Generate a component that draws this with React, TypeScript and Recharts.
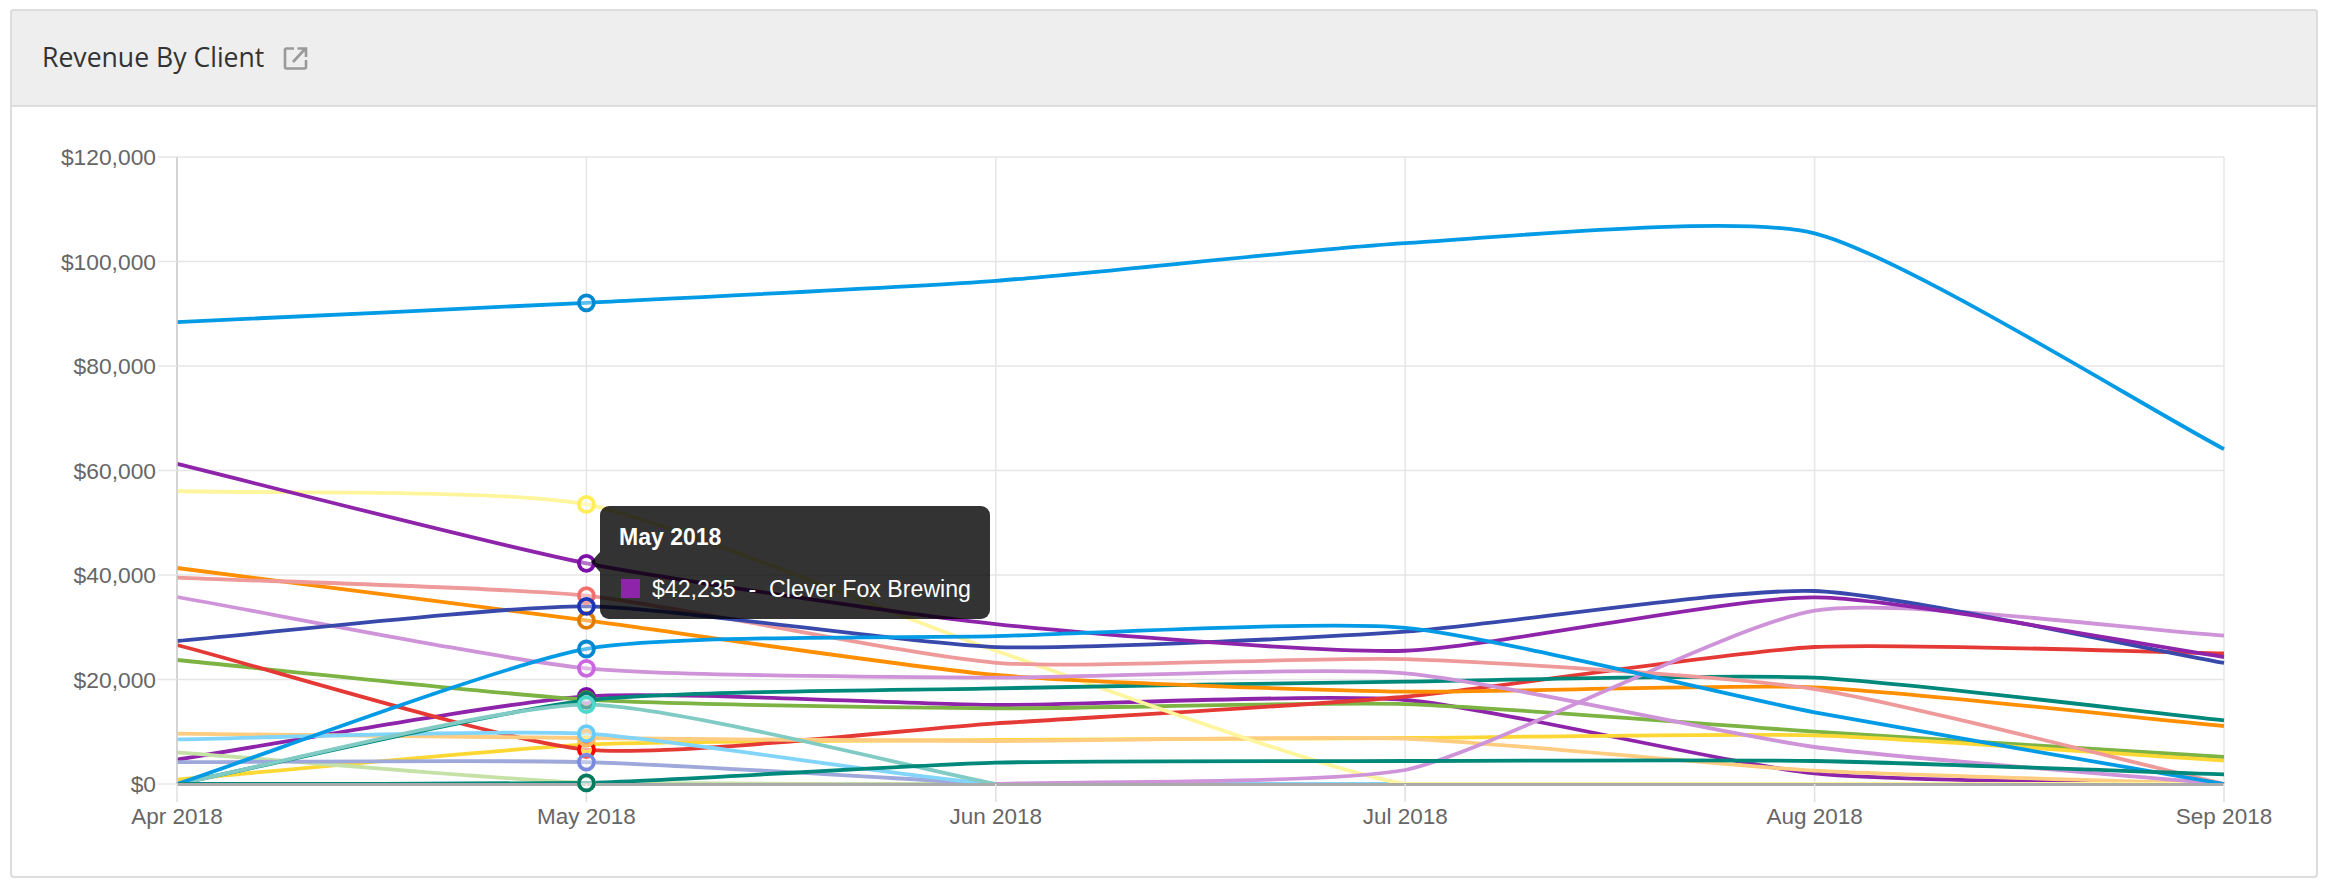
import React from "react";
import { LineChart, Line, XAxis, YAxis, CartesianGrid, Tooltip, ReferenceLine } from "recharts";

const months = ["Apr 2018", "May 2018", "Jun 2018", "Jul 2018", "Aug 2018", "Sep 2018"];
const yTicks = [0, 20000, 40000, 60000, 80000, 100000, 120000];

const purple = [4660, 16780, 15120, 16080, 2040, 0];
const green = [23730, 16140, 14480, 15300, 10020, 5170];
const yellow = [830, 7530, 8420, 8800, 9310, 4470];
const red = [26600, 6570, 11600, 16700, 26220, 25000];
const peach = [9630, 8800, 8230, 8680, 2550, 0];
const paleGreen = [6060, 200, 0, null, null, null];
const periwinkle = [4200, 4200, 0, null, null, null];
const skyBlue = [8550, 9630, 0, 0, 0, 0];
const paleYellow = [56080, 53500, 25500, 0, 0, 0];
const teal = [0, 16000, 18300, 19600, 20350, 12190];
const paleTeal = [0, 15200, 0, null, null, null];
const orange = [41340, 31300, 20860, 17670, 18500, 11100];
const risingLilac = [null, null, 0, 2680, 33180, 28390];
const lilac = [35790, 22140, 20350, 21180, 7080, 0];
const pink = [39490, 36050, 23200, 23900, 18180, 0];
const indigo = [27370, 34000, 26200, 29150, 36940, 23160];
const cleverFox = [61250, 42235, 30600, 25500, 35730, 24300];
const blue = [0, 25840, 28300, 29900, 13720, 0];
const bottomTeal = [0, 200, 4080, 4400, 4400, 1850];
const topBlue = [88400, 92100, 96300, 103500, 105400, 64100];

const seriesList = [
  { name: "Purple", values: purple, color: "#8e24aa", hover: "#7b0fa8" },
  { name: "Green", values: green, color: "#7cb342", hover: "#6aa800" },
  { name: "Yellow", values: yellow, color: "#fdd835", hover: "#ffd000" },
  { name: "Red", values: red, color: "#e53935", hover: "#ff0000" },
  { name: "Peach", values: peach, color: "#ffcc80", hover: "#ffb860" },
  { name: "Pale Green", values: paleGreen, color: "#c5e1a5", hover: "#b5e580" },
  { name: "Periwinkle", values: periwinkle, color: "#9fa8da", hover: "#7a8ae0" },
  { name: "Sky Blue", values: skyBlue, color: "#81d4fa", hover: "#66ccff" },
  { name: "Pale Yellow", values: paleYellow, color: "#fff59d", hover: "#ffee58" },
  { name: "Teal", values: teal, color: "#00897b", hover: "#007a6a" },
  { name: "Pale Teal", values: paleTeal, color: "#80cbc4", hover: "#4dd8cc" },
  { name: "Orange", values: orange, color: "#ff8f00", hover: "#e07b00" },
  { name: "Rising Lilac", values: risingLilac, color: "#ce93d8", hover: "#cc66e0" },
  { name: "Lilac", values: lilac, color: "#ce93d8", hover: "#cc66e0" },
  { name: "Pink", values: pink, color: "#ef9a9a", hover: "#f56f6f" },
  { name: "Indigo", values: indigo, color: "#3949ab", hover: "#1a35b5" },
  { name: "Clever Fox Brewing", values: cleverFox, color: "#8e24aa", hover: "#7b0fa8" },
  { name: "Blue", values: blue, color: "#039be5", hover: "#0288d1" },
  { name: "Bottom Teal", values: bottomTeal, color: "#00897b", hover: "#007a60" },
  { name: "Top Blue", values: topBlue, color: "#039be5", hover: "#0288d1" },
];

const tableRows = months.map((month, i) => {
  const row: Record<string, any> = { month };
  seriesList.forEach((s) => (row[s.name] = s.values[i]));
  return row;
});

const PLOT = { left: 177, right: 2224, top: 157, bottom: 784 };
const FONT = '"Liberation Sans", Arial, sans-serif';
const clamp = (v: number, a: number, b: number) => Math.max(a, Math.min(b, v));

// Spline with low tension, control points capped to the plot area
function tensionCurve(context: any) {
  let pts: [number, number][] = [];
  return {
    areaStart() {},
    areaEnd() {},
    lineStart() {
      pts = [];
    },
    point(x: number, y: number) {
      pts.push([+x, +y]);
    },
    lineEnd() {
      const t = 0.2;
      const n = pts.length;
      const controls = pts.map((p, i) => {
        const a = pts[Math.max(i - 1, 0)];
        const b = pts[Math.min(i + 1, n - 1)];
        const d01 = Math.hypot(p[0] - a[0], p[1] - a[1]);
        const d12 = Math.hypot(b[0] - p[0], b[1] - p[1]);
        const sum = d01 + d12 || 1;
        const fa = (t * d01) / sum;
        const fb = (t * d12) / sum;
        const cap = (x: number, y: number): [number, number] => [
          clamp(x, PLOT.left, PLOT.right),
          clamp(y, PLOT.top, PLOT.bottom),
        ];
        return {
          prev: cap(p[0] - fa * (b[0] - a[0]), p[1] - fa * (b[1] - a[1])),
          next: cap(p[0] + fb * (b[0] - a[0]), p[1] + fb * (b[1] - a[1])),
        };
      });
      pts.forEach((p, i) => {
        if (i === 0) context.moveTo(p[0], p[1]);
        else
          context.bezierCurveTo(
            controls[i - 1].next[0],
            controls[i - 1].next[1],
            controls[i].prev[0],
            controls[i].prev[1],
            p[0],
            p[1]
          );
      });
    },
  };
}

const TIP_SERIES = "Clever Fox Brewing";

function TipBox({ payload, label }: any) {
  const entry = (payload || []).find((p: any) => p.name === TIP_SERIES);
  if (!entry) return null;
  return (
    <div
      style={{
        position: "relative",
        width: 390,
        height: 113,
        boxSizing: "border-box",
        background: "rgba(0,0,0,0.8)",
        borderRadius: 9,
        color: "#fff",
        fontFamily: FONT,
      }}
    >
      <div
        style={{
          position: "absolute",
          left: -9,
          top: 46,
          width: 0,
          height: 0,
          borderTop: "10px solid transparent",
          borderBottom: "10px solid transparent",
          borderRight: "9px solid rgba(0,0,0,0.8)",
        }}
      />
      <div style={{ position: "absolute", left: 19, top: 18, fontSize: 23, fontWeight: 700, lineHeight: "26px", whiteSpace: "nowrap" }}>
        {label}
      </div>
      <div style={{ position: "absolute", left: 21, top: 73, width: 19, height: 19, background: "#8e24aa" }} />
      <div style={{ position: "absolute", left: 52, top: 70, fontSize: 23.15, lineHeight: "26px", whiteSpace: "pre" }}>
        {`$${Number(entry.value).toLocaleString("en-US")}  -  ${entry.name}`}
      </div>
    </div>
  );
}

export default function App() {
  return (
    <div style={{ position: "absolute", left: 0, top: 0, width: 2328, height: 890, background: "#fff", overflow: "hidden" }}>
      <div
        style={{
          position: "absolute",
          left: 10,
          top: 9,
          width: 2308,
          height: 869,
          boxSizing: "border-box",
          border: "2px solid #ddd",
          borderRadius: 4,
        }}
      />
      <div
        style={{
          position: "absolute",
          left: 10,
          top: 9,
          width: 2308,
          height: 98,
          boxSizing: "border-box",
          background: "#eee",
          border: "2px solid #ddd",
          borderRadius: "4px 4px 0 0",
        }}
      />
      <div
        style={{
          position: "absolute",
          left: 42,
          top: 37,
          fontFamily: '"Open Sans", sans-serif',
          fontSize: 26.6,
          lineHeight: "40px",
          color: "#333",
          whiteSpace: "nowrap",
        }}
      >
        Revenue By Client
      </div>
      <svg style={{ position: "absolute", left: 283, top: 45 }} width={26} height={26} viewBox="0 0 26 26">
        <path d="M11 3.5H3.5a1.5 1.5 0 0 0-1.5 1.5v17a1.5 1.5 0 0 0 1.5 1.5h18a1.5 1.5 0 0 0 1.5-1.5V15" fill="none" stroke="#999" strokeWidth={2.6} />
        <path d="M10 17 L22 4 M14.5 3.5H23V12" fill="none" stroke="#999" strokeWidth={2.6} />
      </svg>

      <div style={{ position: "absolute", left: 0, top: 0 }}>
        <LineChart
          width={2328}
          height={890}
          data={tableRows}
          margin={{ top: PLOT.top, right: 2328 - PLOT.right, bottom: 0, left: 0 }}
        >
          <CartesianGrid stroke="#e6e6e6" strokeWidth={1.5} />
          <XAxis
            dataKey="month"
            interval={0}
            height={890 - PLOT.bottom}
            tickSize={18}
            tickMargin={6}
            axisLine={{ stroke: "#aaa", strokeWidth: 2 }}
            tickLine={{ stroke: "#e0e0e0", strokeWidth: 1.5 }}
            tick={{ fill: "#666", fontSize: 22.5, fontFamily: FONT }}
          />
          <YAxis
            width={PLOT.left}
            domain={[0, 120000]}
            ticks={yTicks}
            interval={0}
            tickSize={19}
            tickMargin={2}
            axisLine={{ stroke: "#ccc", strokeWidth: 1.5 }}
            tickLine={{ stroke: "#e6e6e6", strokeWidth: 1.5 }}
            tick={{ fill: "#666", fontSize: 22.8, fontFamily: FONT }}
            tickFormatter={(v: number) => `$${v.toLocaleString("en-US")}`}
          />
          <Tooltip
            defaultIndex={1}
            active
            cursor={false}
            isAnimationActive={false}
            position={{ x: 600, y: 506 }}
            content={<TipBox />}
            wrapperStyle={{ outline: "none", zIndex: 5 }}
          />
          {seriesList.map((s) => (
            <Line
              key={s.name}
              dataKey={s.name}
              name={s.name}
              type={tensionCurve as any}
              stroke={s.color}
              strokeWidth={3.8}
              dot={false}
              activeDot={{ r: 7.5, fill: "rgba(255,255,255,0.35)", stroke: s.hover, strokeWidth: 3.8 }}
              isAnimationActive={false}
            />
          ))}
          <ReferenceLine y={-200} ifOverflow="visible" stroke="#aaa" strokeWidth={2} />
        </LineChart>
      </div>
    </div>
  );
}
